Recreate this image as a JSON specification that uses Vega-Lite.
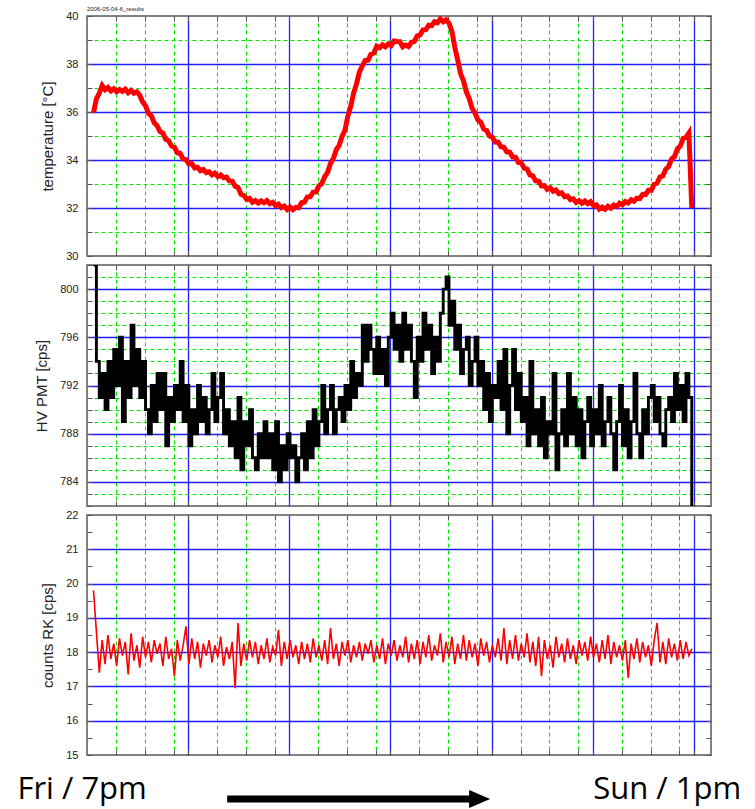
{
  "$schema": "https://vega.github.io/schema/vega-lite/v6.json",
  "background": "white",
  "padding": {"left": 17, "top": 5, "right": 0, "bottom": 0},
  "bounds": "flush",
  "spacing": 9,
  "config": {
    "view": {"stroke": "#5a5a5a", "strokeWidth": 1.5},
    "axis": {
      "labelFont": "Liberation Sans", "labelFontSize": 11, "labelColor": "#222",
      "titleFont": "Liberation Sans", "titleFontSize": 15, "titleFontWeight": "normal", "titleColor": "#222",
      "domain": false, "tickColor": "#555", "tickWidth": 1, "minExtent": 0, "labelFlush": false
    }
  },
  "datasets": {
    "d": [
      {"h":0.45,"T":35.97,"P":802,"C":19.80},{"h":0.65,"T":36.55,"P":794,"C":18.60},{"h":0.85,"T":36.78,"P":791,"C":17.40},{"h":1.05,"T":37.10,"P":793,"C":18.35},
      {"h":1.25,"T":36.93,"P":790,"C":17.65},{"h":1.45,"T":37.02,"P":794,"C":18.50},{"h":1.65,"T":36.88,"P":791,"C":17.80},{"h":1.85,"T":36.97,"P":795,"C":18.25},
      {"h":2.05,"T":36.85,"P":792,"C":17.60},{"h":2.25,"T":36.94,"P":796,"C":18.40},{"h":2.45,"T":36.86,"P":789,"C":17.90},{"h":2.65,"T":36.95,"P":794,"C":18.30},
      {"h":2.85,"T":36.80,"P":791,"C":17.35},{"h":3.05,"T":36.90,"P":797,"C":18.55},{"h":3.25,"T":36.78,"P":792,"C":17.75},{"h":3.45,"T":36.84,"P":795,"C":18.20},
      {"h":3.65,"T":36.70,"P":791,"C":17.55},{"h":3.85,"T":36.42,"P":794,"C":18.45},{"h":4.05,"T":36.26,"P":790,"C":17.85},{"h":4.25,"T":35.95,"P":788,"C":18.30},
      {"h":4.45,"T":35.84,"P":792,"C":17.70},{"h":4.65,"T":35.55,"P":789,"C":18.35},{"h":4.85,"T":35.43,"P":793,"C":17.95},{"h":5.05,"T":35.19,"P":790,"C":18.25},
      {"h":5.25,"T":35.12,"P":793,"C":17.60},{"h":5.45,"T":34.86,"P":787,"C":18.45},{"h":5.65,"T":34.80,"P":791,"C":17.80},{"h":5.85,"T":34.58,"P":789,"C":18.10},
      {"h":6.05,"T":34.53,"P":792,"C":17.30},{"h":6.25,"T":34.30,"P":790,"C":18.35},{"h":6.45,"T":34.27,"P":794,"C":17.75},{"h":6.65,"T":34.04,"P":789,"C":18.20},
      {"h":6.85,"T":34.02,"P":792,"C":18.75},{"h":7.05,"T":33.84,"P":787,"C":17.65},{"h":7.25,"T":33.85,"P":790,"C":18.40},{"h":7.45,"T":33.67,"P":788,"C":17.80},
      {"h":7.65,"T":33.70,"P":792,"C":18.30},{"h":7.85,"T":33.55,"P":789,"C":17.55},{"h":8.05,"T":33.60,"P":791,"C":18.25},{"h":8.25,"T":33.47,"P":788,"C":17.90},
      {"h":8.45,"T":33.51,"P":790,"C":18.35},{"h":8.65,"T":33.38,"P":793,"C":17.70},{"h":8.85,"T":33.45,"P":789,"C":18.20},{"h":9.05,"T":33.31,"P":791,"C":17.85},
      {"h":9.25,"T":33.38,"P":793,"C":18.45},{"h":9.45,"T":33.26,"P":788,"C":17.60},{"h":9.65,"T":33.29,"P":790,"C":18.15},{"h":9.85,"T":33.13,"P":787,"C":17.80},
      {"h":10.05,"T":33.12,"P":789,"C":18.30},{"h":10.25,"T":32.91,"P":786,"C":16.95},{"h":10.45,"T":32.86,"P":791,"C":18.85},{"h":10.65,"T":32.58,"P":785,"C":17.60},
      {"h":10.85,"T":32.52,"P":789,"C":18.25},{"h":11.05,"T":32.36,"P":787,"C":17.75},{"h":11.25,"T":32.40,"P":790,"C":18.35},{"h":11.45,"T":32.24,"P":786,"C":17.85},
      {"h":11.65,"T":32.31,"P":785,"C":18.30},{"h":11.85,"T":32.21,"P":788,"C":17.65},{"h":12.05,"T":32.30,"P":786,"C":18.20},{"h":12.25,"T":32.22,"P":789,"C":17.80},
      {"h":12.45,"T":32.31,"P":786,"C":18.40},{"h":12.65,"T":32.18,"P":788,"C":17.70},{"h":12.85,"T":32.24,"P":785,"C":18.15},{"h":13.05,"T":32.10,"P":789,"C":17.90},
      {"h":13.25,"T":32.16,"P":784,"C":18.65},{"h":13.45,"T":32.02,"P":787,"C":17.60},{"h":13.65,"T":32.08,"P":785,"C":18.30},{"h":13.85,"T":31.94,"P":788,"C":17.80},
      {"h":14.05,"T":32.04,"P":786,"C":18.35},{"h":14.25,"T":31.93,"P":787,"C":17.85},{"h":14.45,"T":32.03,"P":784,"C":18.20},{"h":14.65,"T":32.01,"P":786,"C":17.65},
      {"h":14.85,"T":32.22,"P":788,"C":18.30},{"h":15.05,"T":32.25,"P":785,"C":17.80},{"h":15.25,"T":32.46,"P":789,"C":18.25},{"h":15.45,"T":32.47,"P":786,"C":17.70},
      {"h":15.65,"T":32.66,"P":790,"C":18.40},{"h":15.85,"T":32.67,"P":787,"C":17.85},{"h":16.05,"T":32.92,"P":789,"C":18.20},{"h":16.25,"T":33.02,"P":792,"C":17.75},
      {"h":16.45,"T":33.30,"P":788,"C":18.35},{"h":16.65,"T":33.48,"P":790,"C":17.65},{"h":16.85,"T":33.86,"P":792,"C":18.70},{"h":17.05,"T":34.06,"P":788,"C":17.80},
      {"h":17.25,"T":34.43,"P":790,"C":18.25},{"h":17.45,"T":34.61,"P":791,"C":17.60},{"h":17.65,"T":34.98,"P":789,"C":18.30},{"h":17.85,"T":35.24,"P":792,"C":17.90},
      {"h":18.05,"T":35.83,"P":790,"C":18.35},{"h":18.25,"T":36.23,"P":794,"C":17.70},{"h":18.45,"T":36.79,"P":791,"C":18.20},{"h":18.65,"T":37.17,"P":793,"C":17.85},
      {"h":18.85,"T":37.66,"P":792,"C":18.30},{"h":19.05,"T":37.92,"P":797,"C":17.75},{"h":19.25,"T":38.14,"P":794,"C":18.25},{"h":19.45,"T":38.16,"P":797,"C":17.95},
      {"h":19.65,"T":38.41,"P":795,"C":18.35},{"h":19.85,"T":38.46,"P":793,"C":17.70},{"h":20.05,"T":38.74,"P":796,"C":18.20},{"h":20.25,"T":38.68,"P":793,"C":17.80},
      {"h":20.45,"T":38.80,"P":795,"C":18.40},{"h":20.65,"T":38.72,"P":792,"C":17.65},{"h":20.85,"T":38.84,"P":796,"C":18.25},{"h":21.05,"T":38.77,"P":798,"C":17.90},
      {"h":21.25,"T":38.96,"P":795,"C":18.35},{"h":21.45,"T":38.94,"P":797,"C":17.75},{"h":21.65,"T":38.93,"P":794,"C":18.20},{"h":21.85,"T":38.72,"P":798,"C":17.85},
      {"h":22.05,"T":38.79,"P":795,"C":18.45},{"h":22.25,"T":38.73,"P":797,"C":17.70},{"h":22.45,"T":38.90,"P":794,"C":18.25},{"h":22.65,"T":38.94,"P":791,"C":17.80},
      {"h":22.85,"T":39.17,"P":796,"C":18.35},{"h":23.05,"T":39.21,"P":794,"C":17.65},{"h":23.25,"T":39.42,"P":798,"C":18.30},{"h":23.45,"T":39.43,"P":795,"C":17.85},
      {"h":23.65,"T":39.62,"P":797,"C":18.50},{"h":23.85,"T":39.60,"P":793,"C":17.75},{"h":24.05,"T":39.76,"P":796,"C":18.20},{"h":24.25,"T":39.72,"P":794,"C":17.90},
      {"h":24.45,"T":39.88,"P":798,"C":18.55},{"h":24.65,"T":39.76,"P":800,"C":17.70},{"h":24.85,"T":39.84,"P":801,"C":18.30},{"h":25.05,"T":39.70,"P":797,"C":17.85},
      {"h":25.25,"T":39.36,"P":799,"C":18.45},{"h":25.45,"T":38.70,"P":795,"C":17.65},{"h":25.65,"T":38.17,"P":797,"C":18.25},{"h":25.85,"T":37.60,"P":793,"C":17.80},
      {"h":26.05,"T":37.30,"P":795,"C":18.50},{"h":26.25,"T":36.84,"P":796,"C":17.75},{"h":26.45,"T":36.56,"P":792,"C":18.35},{"h":26.65,"T":36.15,"P":794,"C":17.85},
      {"h":26.85,"T":35.96,"P":796,"C":18.25},{"h":27.05,"T":35.67,"P":792,"C":17.60},{"h":27.25,"T":35.57,"P":794,"C":18.40},{"h":27.45,"T":35.29,"P":790,"C":17.90},
      {"h":27.65,"T":35.23,"P":793,"C":18.30},{"h":27.85,"T":35.00,"P":789,"C":17.70},{"h":28.05,"T":34.95,"P":792,"C":18.20},{"h":28.25,"T":34.75,"P":791,"C":17.85},
      {"h":28.45,"T":34.74,"P":794,"C":18.40},{"h":28.65,"T":34.55,"P":790,"C":17.75},{"h":28.85,"T":34.53,"P":795,"C":18.70},{"h":29.05,"T":34.34,"P":788,"C":17.65},
      {"h":29.25,"T":34.33,"P":792,"C":18.35},{"h":29.45,"T":34.13,"P":795,"C":17.80},{"h":29.65,"T":34.11,"P":790,"C":18.50},{"h":29.85,"T":33.90,"P":793,"C":17.75},
      {"h":30.05,"T":33.88,"P":789,"C":18.25},{"h":30.25,"T":33.66,"P":791,"C":17.85},{"h":30.45,"T":33.62,"P":787,"C":18.55},{"h":30.65,"T":33.38,"P":794,"C":17.70},
      {"h":30.85,"T":33.34,"P":788,"C":18.30},{"h":31.05,"T":33.13,"P":790,"C":17.60},{"h":31.25,"T":33.12,"P":787,"C":18.45},{"h":31.45,"T":32.92,"P":791,"C":17.30},
      {"h":31.65,"T":32.93,"P":786,"C":18.35},{"h":31.85,"T":32.78,"P":789,"C":17.80},{"h":32.05,"T":32.84,"P":788,"C":18.20},{"h":32.25,"T":32.70,"P":793,"C":17.55},
      {"h":32.45,"T":32.75,"P":785,"C":18.45},{"h":32.65,"T":32.60,"P":788,"C":17.85},{"h":32.85,"T":32.63,"P":790,"C":18.25},{"h":33.05,"T":32.47,"P":787,"C":17.70},
      {"h":33.25,"T":32.50,"P":793,"C":18.40},{"h":33.45,"T":32.35,"P":788,"C":17.80},{"h":33.65,"T":32.38,"P":791,"C":18.20},{"h":33.85,"T":32.23,"P":787,"C":17.65},
      {"h":34.05,"T":32.31,"P":790,"C":18.35},{"h":34.25,"T":32.20,"P":786,"C":17.90},{"h":34.45,"T":32.29,"P":789,"C":18.30},{"h":34.65,"T":32.18,"P":791,"C":17.75},
      {"h":34.85,"T":32.26,"P":787,"C":18.45},{"h":35.05,"T":32.10,"P":790,"C":17.85},{"h":35.25,"T":32.13,"P":788,"C":18.25},{"h":35.45,"T":31.96,"P":792,"C":17.70},
      {"h":35.65,"T":32.04,"P":787,"C":18.35},{"h":35.85,"T":31.95,"P":789,"C":17.80},{"h":36.05,"T":32.07,"P":791,"C":18.50},{"h":36.25,"T":31.99,"P":788,"C":17.65},
      {"h":36.45,"T":32.12,"P":785,"C":18.30},{"h":36.65,"T":32.06,"P":789,"C":17.85},{"h":36.85,"T":32.20,"P":792,"C":18.20},{"h":37.05,"T":32.14,"P":787,"C":17.75},
      {"h":37.25,"T":32.27,"P":790,"C":18.35},{"h":37.45,"T":32.21,"P":786,"C":17.25},{"h":37.65,"T":32.34,"P":789,"C":18.25},{"h":37.85,"T":32.28,"P":793,"C":17.80},
      {"h":38.05,"T":32.41,"P":788,"C":18.40},{"h":38.25,"T":32.39,"P":786,"C":17.70},{"h":38.45,"T":32.57,"P":790,"C":18.30},{"h":38.65,"T":32.56,"P":788,"C":17.85},
      {"h":38.85,"T":32.74,"P":791,"C":18.20},{"h":39.05,"T":32.74,"P":792,"C":17.60},{"h":39.25,"T":32.99,"P":789,"C":18.35},{"h":39.45,"T":33.04,"P":791,"C":18.85},
      {"h":39.65,"T":33.29,"P":788,"C":17.70},{"h":39.85,"T":33.34,"P":787,"C":18.30},{"h":40.05,"T":33.62,"P":790,"C":17.65},{"h":40.25,"T":33.73,"P":791,"C":18.40},
      {"h":40.45,"T":34.04,"P":789,"C":17.85},{"h":40.65,"T":34.14,"P":793,"C":18.25},{"h":40.85,"T":34.46,"P":790,"C":17.75},{"h":41.05,"T":34.58,"P":792,"C":18.35},
      {"h":41.25,"T":34.90,"P":789,"C":17.80},{"h":41.45,"T":34.94,"P":793,"C":18.30},{"h":41.65,"T":35.12,"P":791,"C":17.90},{"h":41.85,"T":32.00,"P":782,"C":18.10}
    ],
    "labels": [
      {"h": -0.34, "label": "Fri / 7pm"},
      {"h": 40.15, "label": "Sun / 1pm"}
    ],
    "arrow": [
      {"start": 9.7, "end": 26.6, "tip": 27.17}
    ]
  },
  "vconcat": [
    {
      "width": 624, "height": 240,
      "title": {"text": "2006-05-04-6_results", "anchor": "start", "frame": "group", "fontSize": 6, "font": "Liberation Sans", "fontWeight": "normal", "color": "#222", "offset": 3, "dy": 5},
      "data": {"name": "d"},
      "layer": [
        {
          "mark": {"type": "line", "color": "#ff0000", "strokeWidth": 5, "clip": true},
          "encoding": {
            "x": {"field": "h", "type": "quantitative", "scale": {"domain": [0, 43.18], "nice": false, "zero": false},
              "axis": {"orient": "bottom", "values": [2,4,6,7,9,11,13,14,16,18,20,21,23,25,27,28,30,32,34,35,37,39,41,42], "labels": false, "title": null, "tickSize": -5, "grid": true,
                "gridColor": {"condition": {"test": "datum.value % 7 === 0", "value": "#1c1cff"}, "value": "#00e600"},
                "gridDash": {"condition": {"test": "datum.value % 7 === 0", "value": []}, "value": [4, 3]},
                "gridWidth": {"condition": {"test": "datum.value % 7 === 0", "value": 1.3}, "value": 1}}},
            "y": {"field": "T", "type": "quantitative", "scale": {"domain": [30, 40], "nice": false, "zero": false},
              "axis": {"orient": "left", "values": [30,31,32,33,34,35,36,37,38,39,40], "labelExpr": "datum.value % 2 === 0 ? datum.label : ''", "tickSize": -5, "labelPadding": 14, "title": "temperature [°C]", "titlePadding": 10, "grid": true,
                "gridColor": {"condition": {"test": "datum.value % 2 === 0", "value": "#1c1cff"}, "value": "#00e600"},
                "gridDash": {"condition": {"test": "datum.value % 2 === 0", "value": []}, "value": [4, 3]},
                "gridWidth": {"condition": {"test": "datum.value % 2 === 0", "value": 1.3}, "value": 1},
                "gridOpacity": {"condition": {"test": "datum.value === 30 || datum.value === 40", "value": 0}, "value": 1}}}
          }
        },
        {
          "mark": {"type": "point", "opacity": 0},
          "encoding": {
            "x": {"field": "h", "type": "quantitative", "axis": {"orient": "top", "values": [2,4,6,7,9,11,13,14,16,18,20,21,23,25,27,28,30,32,34,35,37,39,41,42], "labels": false, "title": null, "tickSize": -5, "grid": false}},
            "y": {"field": "T", "type": "quantitative", "axis": {"orient": "right", "values": [30,31,32,33,34,35,36,37,38,39,40], "labels": false, "title": null, "tickSize": -5, "grid": false}}
          }
        }
      ],
      "resolve": {"axis": {"x": "independent", "y": "independent"}}
    },
    {
      "width": 624, "height": 241,
      "data": {"name": "d"},
      "layer": [
        {
          "mark": {"type": "line", "color": "#000000", "strokeWidth": 2.9, "interpolate": "step-after", "clip": true},
          "encoding": {
            "x": {"field": "h", "type": "quantitative", "scale": {"domain": [0, 43.18], "nice": false, "zero": false},
              "axis": {"orient": "bottom", "values": [2,4,6,7,9,11,13,14,16,18,20,21,23,25,27,28,30,32,34,35,37,39,41,42], "labels": false, "title": null, "tickSize": -5, "grid": true,
                "gridColor": {"condition": {"test": "datum.value % 7 === 0", "value": "#1c1cff"}, "value": "#00e600"},
                "gridDash": {"condition": {"test": "datum.value % 7 === 0", "value": []}, "value": [4, 3]},
                "gridWidth": {"condition": {"test": "datum.value % 7 === 0", "value": 1.3}, "value": 1}}},
            "y": {"field": "P", "type": "quantitative", "scale": {"domain": [782, 802], "nice": false, "zero": false},
              "axis": {"orient": "left", "values": [782,783,784,785,786,787,788,789,790,791,792,793,794,795,796,797,798,799,800,801,802], "labelExpr": "datum.value % 4 === 0 ? datum.label : ''", "tickSize": -5, "labelPadding": 14, "title": "HV PMT [cps]", "titlePadding": 10, "grid": true,
                "gridColor": {"condition": {"test": "datum.value % 4 === 0", "value": "#1c1cff"}, "value": "#00e600"},
                "gridDash": {"condition": {"test": "datum.value % 4 === 0", "value": []}, "value": [4, 3]},
                "gridWidth": {"condition": {"test": "datum.value % 4 === 0", "value": 1.3}, "value": 1},
                "gridOpacity": {"condition": {"test": "datum.value === 782 || datum.value === 802", "value": 0}, "value": 1}}}
          }
        },
        {
          "mark": {"type": "point", "opacity": 0},
          "encoding": {
            "x": {"field": "h", "type": "quantitative", "axis": {"orient": "top", "values": [2,4,6,7,9,11,13,14,16,18,20,21,23,25,27,28,30,32,34,35,37,39,41,42], "labels": false, "title": null, "tickSize": -5, "grid": false}},
            "y": {"field": "P", "type": "quantitative", "axis": {"orient": "right", "values": [782,783,784,785,786,787,788,789,790,791,792,793,794,795,796,797,798,799,800,801,802], "labels": false, "title": null, "tickSize": -5, "grid": false}}
          }
        }
      ],
      "resolve": {"axis": {"x": "independent", "y": "independent"}}
    },
    {
      "width": 624, "height": 240,
      "data": {"name": "d"},
      "layer": [
        {
          "mark": {"type": "line", "color": "#ff0000", "strokeWidth": 1.6, "clip": true},
          "encoding": {
            "x": {"field": "h", "type": "quantitative", "scale": {"domain": [0, 43.18], "nice": false, "zero": false},
              "axis": {"orient": "bottom", "values": [2,4,6,7,9,11,13,14,16,18,20,21,23,25,27,28,30,32,34,35,37,39,41,42], "labels": false, "title": null, "tickSize": -5, "grid": true,
                "gridColor": {"condition": {"test": "datum.value % 7 === 0", "value": "#1c1cff"}, "value": "#00e600"},
                "gridDash": {"condition": {"test": "datum.value % 7 === 0", "value": []}, "value": [4, 3]},
                "gridWidth": {"condition": {"test": "datum.value % 7 === 0", "value": 1.3}, "value": 1}}},
            "y": {"field": "C", "type": "quantitative", "scale": {"domain": [15, 22], "nice": false, "zero": false},
              "axis": {"orient": "left", "values": [15,15.5,16,16.5,17,17.5,18,18.5,19,19.5,20,20.5,21,21.5,22], "format": ".0f", "labelExpr": "datum.value % 1 === 0 ? datum.label : ''", "tickSize": -5, "labelPadding": 14, "title": "counts RK [cps]", "titlePadding": 10, "grid": true,
                "gridColor": "#1c1cff", "gridWidth": 1.3,
                "gridOpacity": {"condition": {"test": "datum.value % 1 === 0 && datum.value > 15 && datum.value < 22", "value": 1}, "value": 0}}}
          }
        },
        {
          "mark": {"type": "point", "opacity": 0},
          "encoding": {
            "x": {"field": "h", "type": "quantitative", "axis": {"orient": "top", "values": [2,4,6,7,9,11,13,14,16,18,20,21,23,25,27,28,30,32,34,35,37,39,41,42], "labels": false, "title": null, "tickSize": -5, "grid": false}},
            "y": {"field": "C", "type": "quantitative", "axis": {"orient": "right", "values": [15,15.5,16,16.5,17,17.5,18,18.5,19,19.5,20,20.5,21,21.5,22], "labels": false, "title": null, "tickSize": -5, "grid": false}}
          }
        }
      ],
      "resolve": {"axis": {"x": "independent", "y": "independent"}}
    },
    {
      "width": 624, "height": 35,
      "view": {"stroke": null},
      "layer": [
        {
          "data": {"name": "labels"},
          "mark": {"type": "text", "font": "Open Sans", "fontSize": 31, "baseline": "alphabetic", "align": "center", "color": "#000000"},
          "encoding": {
            "x": {"field": "h", "type": "quantitative", "scale": {"domain": [0, 43.18], "nice": false, "zero": false}, "axis": null},
            "y": {"datum": 0, "type": "quantitative", "scale": {"domain": [0, 1]}, "axis": null},
            "text": {"field": "label"}
          }
        },
        {
          "data": {"name": "arrow"},
          "mark": {"type": "rule", "strokeWidth": 7, "color": "#000000", "strokeCap": "butt"},
          "encoding": {
            "x": {"field": "start", "type": "quantitative"},
            "x2": {"field": "end"},
            "y": {"datum": 0, "type": "quantitative"}
          }
        },
        {
          "data": {"name": "arrow"},
          "mark": {"type": "point", "shape": "M-1,-0.85L1,0L-1,0.85Z", "size": 441, "filled": true, "color": "#000000", "opacity": 1},
          "encoding": {
            "x": {"field": "tip", "type": "quantitative"},
            "y": {"datum": 0, "type": "quantitative"}
          }
        }
      ]
    }
  ]
}
